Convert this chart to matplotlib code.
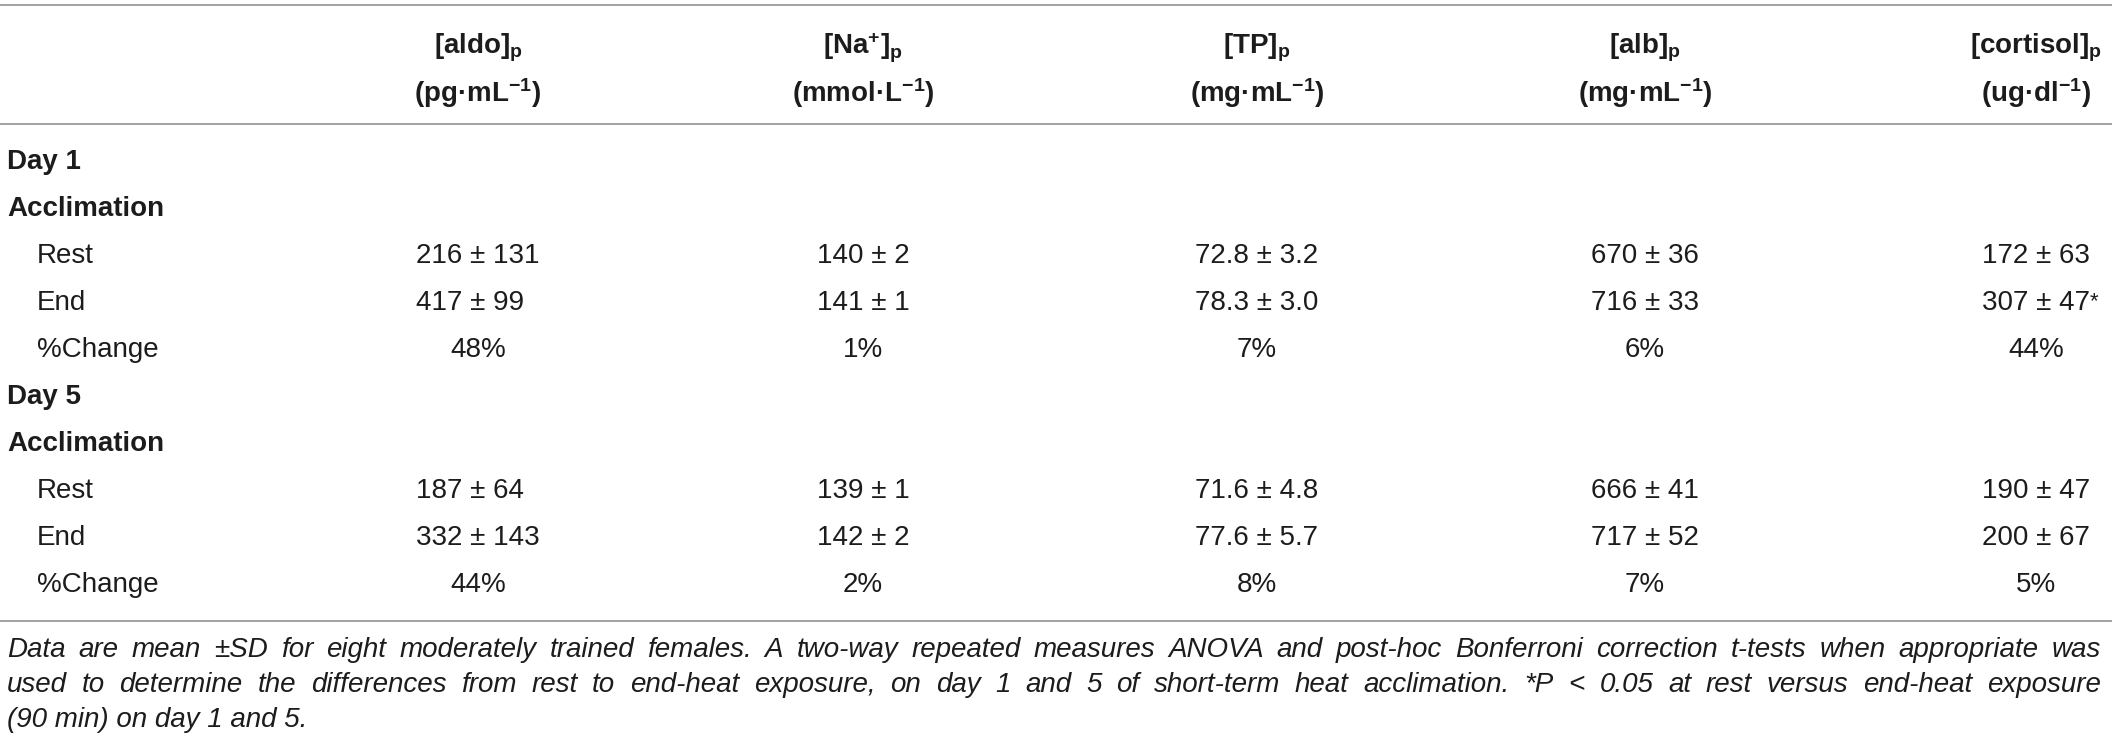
import matplotlib
matplotlib.use('Agg')
import matplotlib.pyplot as plt

plt.rcParams['font.family'] = ['Liberation Sans', 'DejaVu Sans']
plt.rcParams['mathtext.default'] = 'regular'

# table content
var_names = ['[aldo]', '[Na$^{+}$]', '[TP]', '[alb]', '[cortisol]']
var_units = ['(pg·mL$^{-1}$)', '(mmol·L$^{-1}$)', '(mg·mL$^{-1}$)',
             '(mg·mL$^{-1}$)', '(ug·dl$^{-1}$)']
decimals = [0, 0, 1, 0, 0]

day1_rest_mean = [216, 140, 72.8, 670, 172]
day1_rest_sd = [131, 2, 3.2, 36, 63]
day1_end_mean = [417, 141, 78.3, 716, 307]
day1_end_sd = [99, 1, 3.0, 33, 47]
day1_change = [48, 1, 7, 6, 44]
day1_end_sig = [False, False, False, False, True]

day5_rest_mean = [187, 139, 71.6, 666, 190]
day5_rest_sd = [64, 1, 4.8, 41, 47]
day5_end_mean = [332, 142, 77.6, 717, 200]
day5_end_sd = [143, 2, 5.7, 52, 67]
day5_change = [44, 2, 8, 7, 5]
day5_end_sig = [False, False, False, False, False]

footnote_lines = [
    'Data are mean \u00b1SD for eight moderately trained females. A two-way repeated measures '
    'ANOVA and post-hoc Bonferroni correction t-tests when appropriate was',
    'used to determine the differences from rest to end-heat exposure, on day 1 and 5 of '
    'short-term heat acclimation. *P < 0.05 at rest versus end-heat exposure',
    '(90 min) on day 1 and 5.',
]

W, H = 2118, 744
fig = plt.figure(figsize=(W / 100, H / 100), dpi=100)
ax = fig.add_axes([0, 0, 1, 1])
ax.set_xlim(0, W)
ax.set_ylim(H, 0)
ax.axis('off')
renderer = fig.canvas.get_renderer()

ink = '#1c1c1c'
rule = '#9a9a9a'
fs = 20
col_x = [478, 863, 1257, 1645, 2036]
left_x, indent_x = 7, 37
right_x = 2112


def fmt(m, s, d):
    return f'{m:.{d}f} \u00b1 {s:.{d}f}'


# rules
for y in [5, 124, 621]:
    ax.plot([0, right_x], [y, y], color=rule, lw=1.3, solid_capstyle='butt')

# header
for x, name, unit in zip(col_x, var_names, var_units):
    ax.text(x, 48, name + '$_{p}$', ha='center', va='center', fontsize=fs,
            fontweight='bold', color=ink)
    ax.text(x, 93, unit, ha='center', va='center', fontsize=fs,
            fontweight='bold', color=ink)

blocks = [
    ('Day 1', 162, day1_rest_mean, day1_rest_sd, day1_end_mean, day1_end_sd,
     day1_change, day1_end_sig),
    ('Day 5', 397, day5_rest_mean, day5_rest_sd, day5_end_mean, day5_end_sd,
     day5_change, day5_end_sig),
]
step = 47

for label, y0, rm, rs, em, es, ch, sig in blocks:
    ax.text(left_x, y0, label, ha='left', va='center', fontsize=fs,
            fontweight='bold', color=ink)
    ax.text(left_x, y0 + step, 'Acclimation', ha='left', va='center',
            fontsize=fs, fontweight='bold', color=ink)
    for k, name in enumerate(['Rest', 'End', '%Change']):
        ax.text(indent_x, y0 + step * (k + 2), name, ha='left', va='center',
                fontsize=fs, color=ink)
    for j, x in enumerate(col_x):
        cells = [fmt(rm[j], rs[j], decimals[j]), fmt(em[j], es[j], decimals[j])]
        arts = [ax.text(x, y0 + step * (k + 2), c, ha='left', va='center',
                        fontsize=fs, color=ink) for k, c in enumerate(cells)]
        widths = [a.get_window_extent(renderer).width for a in arts]
        start = x - max(widths) / 2
        for a in arts:
            a.set_x(start)
        if sig[j]:
            ax.annotate('*', xy=(1, 0.95), xycoords=arts[1], ha='left',
                        va='top', fontsize=fs * 0.8, color=ink)
        ax.text(x, y0 + step * 4, f'{ch[j]}%', ha='center', va='center',
                fontsize=fs, color=ink)

# footnote, justified except the last line
foot_y = [650, 685, 720]
foot_right = 2101
for n, (line, y) in enumerate(zip(footnote_lines, foot_y)):
    words = line.split(' ')
    if n == len(footnote_lines) - 1:
        ax.text(left_x, y, line, ha='left', va='center', fontsize=fs,
                style='italic', color=ink)
        continue
    arts = [ax.text(0, y, w, ha='left', va='center', fontsize=fs,
                    style='italic', color=ink) for w in words]
    widths = [a.get_window_extent(renderer).width for a in arts]
    gap = (foot_right - left_x - sum(widths)) / (len(words) - 1)
    x = left_x
    for a, w in zip(arts, widths):
        a.set_x(x)
        x += w + gap

fig.savefig('out.png', dpi=100, facecolor='white')
